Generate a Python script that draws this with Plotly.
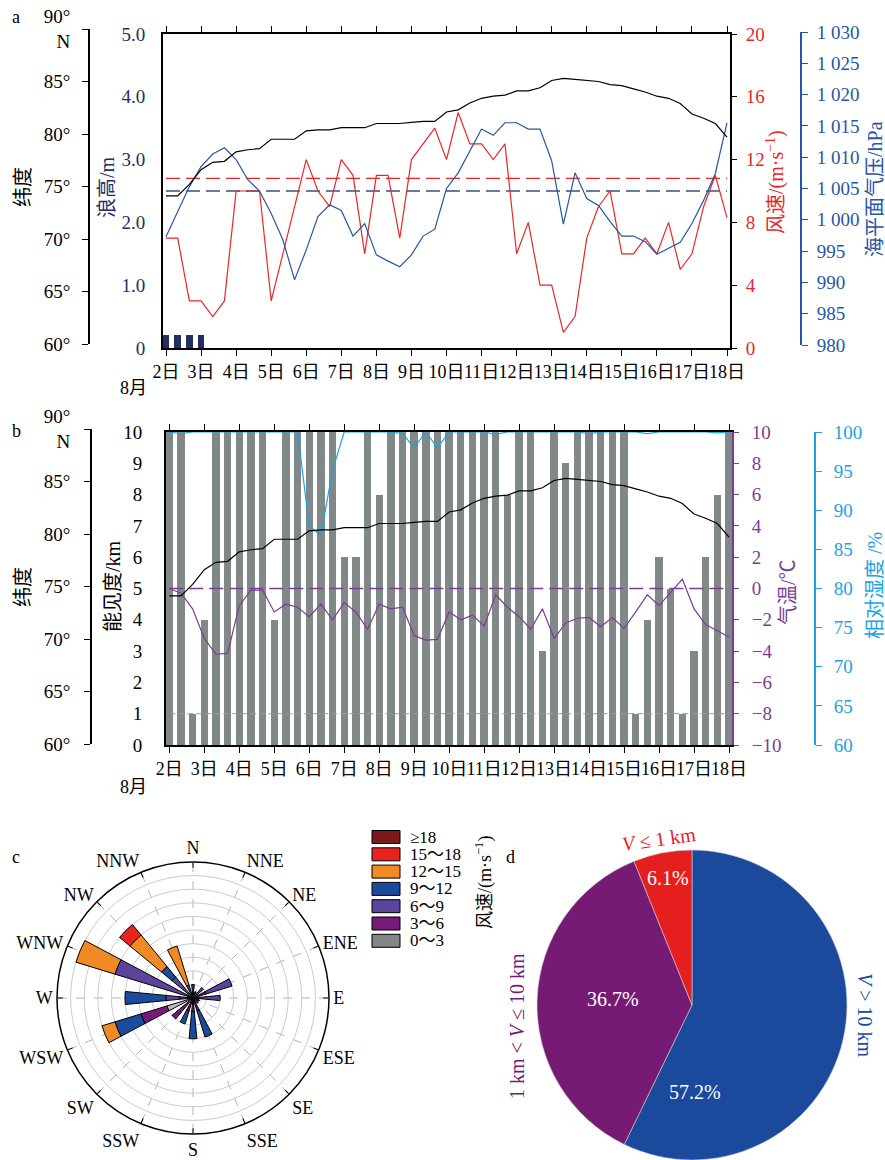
import plotly.graph_objects as go

W, H = 885, 1160
def px(x):
    return x / W
def py(y):
    return 1 - y / H

FONT = "Liberation Serif, Noto Sans CJK SC"
NAVY = "#232f63"
RED = "#e8262a"
BLUE = "#2656a6"
PURPLE = "#7b3c96"
CYAN = "#1ba3e3"
BARGRAY = "#808888"

# ---------------- data ----------------
days = [2 + i / 3 for i in range(49)]          # 8-hourly observation times (day of August)
day_ticks = list(range(2, 19))
day_labels = [f"{d}日" for d in day_ticks]

latitude = [74.1, 74.1, 75.2, 76.6, 77.3, 77.4, 78.3, 78.5, 78.6, 79.5, 79.5, 79.5,
            80.3, 80.4, 80.4, 80.6, 80.6, 80.6, 81.0, 81.0, 81.0, 81.1, 81.2, 81.2, 82.1,
            82.3, 82.95, 83.4, 83.6, 83.7, 84.1, 84.1, 84.4, 85.1, 85.3, 85.2, 85.1,
            85.0, 84.7, 84.6, 84.3, 84.0, 83.6, 83.4, 82.9, 81.9, 81.5, 81.0, 79.7]
wind_speed = [7, 7, 3, 3, 2, 3, 10, 10, 10, 3, 6, 9, 12, 10, 9, 12, 11, 6, 11, 11, 7,
              12, 13, 14, 12, 15, 13, 13, 12, 13, 6, 8, 4, 4, 1, 2, 7, 9, 10, 6, 6, 7,
              6, 8, 5, 6, 9, 11, 8.3]
pressure = [997.3, 1001.3, 1005.3, 1008.5, 1010.5, 1011.5, 1009.6, 1006.4, 1004.6,
            1001.0, 996.8, 990.4, 995.2, 1000.5, 1002.4, 1001.5, 997.4, 999.4, 994.4,
            993.4, 992.5, 994.4, 997.4, 998.5, 1005.0, 1007.5, 1011.1, 1014.5, 1013.5,
            1015.5, 1015.5, 1014.5, 1014.5, 1009.4, 999.3, 1007.5, 1003.4, 1002.3,
            999.7, 997.4, 997.4, 996.5, 994.5, 995.4, 996.4, 999.4, 1003.1, 1007.4, 1015.5]
wave_time = [2.0, 2.333, 2.667, 3.0]
wave_height = [0.2, 0.2, 0.2, 0.2]
wind_threshold = 10.8
wave_threshold = 2.5

visibility = [10, 10, 1, 4, 10, 10, 10, 10, 10, 4, 10, 10, 10, 10, 10, 6, 6, 10, 8, 10,
              10, 10, 10, 10, 10, 10, 10, 10, 10, 8, 10, 10, 3, 10, 9, 10, 10, 10, 10,
              10, 1, 4, 6, 5, 1, 3, 6, 8, 10]
air_temp = [0.0, -0.3, -1.3, -3.2, -4.2, -4.15, -1.1, -0.1, -0.1, -1.5, -1.0, -1.2,
            -1.8, -1.0, -2.0, -0.9, -1.5, -2.6, -1.0, -1.3, -1.2, -3.0, -3.3, -3.25,
            -1.5, -2.0, -1.7, -2.4, -0.4, -1.2, -1.8, -2.6, -1.3, -3.2, -2.2, -1.9,
            -1.85, -2.45, -1.85, -2.55, -1.5, -0.4, -1.1, -0.25, 0.6, -1.3, -2.3, -2.7, -3.1]
rel_hum = [100, 99.8, 100, 100, 100, 100, 100, 100, 100, 100,
           100, 100, 88.0, 86.8, 95.1, 100, 100, 100, 100, 100,
           99.8, 98.0, 100, 98.0, 100, 100, 100, 100, 99.7, 100,
           100, 100, 100, 100, 100, 100, 99.8, 100, 100, 100,
           100, 99.8, 100, 100, 100, 100, 100, 99.9, 100]
temp_ref = 0
vis_ref = 1

wave_ticks = [0, 1, 2, 3, 4, 5]
wave_labels = ["0", "1.0", "2.0", "3.0", "4.0", "5.0"]
wind_ticks = [0, 4, 8, 12, 16, 20]
pres_ticks = [980, 985, 990, 995, 1000, 1005, 1010, 1015, 1020, 1025, 1030]
pres_labels = ["980", "985", "990", "995", "1 000", "1 005", "1 010", "1 015", "1 020", "1 025", "1 030"]
lat_ticks = [60, 65, 70, 75, 80, 85, 90]
lat_labels = ["60°", "65°", "70°", "75°", "80°", "85°", "90°<br>N"]
vis_ticks = list(range(0, 11))
temp_ticks = list(range(-10, 11, 2))
rh_ticks = list(range(60, 101, 5))

# wind rose
directions = ["N", "NNE", "NE", "ENE", "E", "ESE", "SE", "SSE",
              "S", "SSW", "SW", "WSW", "W", "WNW", "NW", "NNW"]
dir_angles = [0, 22.5, 45, 67.5, 90, 112.5, 135, 157.5,
              180, 202.5, 225, 247.5, 270, 292.5, 315, 337.5]
speed_bins = ["0～3", "3～6", "6～9", "9～12", "12～15", "15～18", "≥18"]
rose_0_3 = [0, 0, 0, 0, 0, 0, 0, 0, 0, 0.3, 0.5, 2.0, 0.3, 0, 0, 0]
rose_3_6 = [0.4, 0.5, 0.4, 1.0, 0.5, 0.5, 0.5, 1.0, 1.0, 0.7, 1.5, 2.0, 0.7, 0.5, 0.5, 0]
rose_6_9 = [0, 0, 0.6, 2.0, 1.5, 0, 0, 0, 0, 0, 0, 0, 1.0, 5.5, 1.5, 1.0]
rose_9_12 = [0.6, 0, 0, 0, 0, 0, 0, 2.0, 2.0, 1.0, 0, 2.0, 3.0, 0, 1.0, 0]
rose_12_15 = [0, 0, 0, 0, 0, 0, 0, 0, 0, 0, 0, 1.0, 0, 3.0, 3.0, 3.0]
rose_15_18 = [0, 0, 0, 0, 0, 0, 0, 0, 0, 0, 0, 0, 0, 0, 1.0, 0]
rose_18 = [0] * 16
rose_series = [rose_0_3, rose_3_6, rose_6_9, rose_9_12, rose_12_15, rose_15_18, rose_18]
rose_colors = ["#bcbcbc", "#771b7b", "#5b449c", "#1b4c9c", "#f08a24", "#e8231f", "#7b1a1c"]
legend_colors = ["#858585", "#771b7b", "#5b449c", "#1b4c9c", "#f08a24", "#e8231f", "#7b1a1c"]

# visibility pie
vis_classes = ["V > 10 km", "1 km < V ≤ 10 km", "V ≤ 1 km"]
vis_share = [57.2, 36.7, 6.1]
pie_colors = ["#1b4a9c", "#761b73", "#e51e1e"]

# ---------------- figure ----------------
fig = go.Figure()

# panel a
fig.add_trace(go.Bar(x=wave_time, y=wave_height, width=0.19, marker=dict(color=NAVY, line=dict(width=0)),
                     xaxis="x", yaxis="y"))
fig.add_trace(go.Scatter(x=[days[0], days[-1]], y=[wave_threshold] * 2, mode="lines",
                         line=dict(color="#3d4c7e", width=1.3, dash="14px,6px"), xaxis="x", yaxis="y"))
fig.add_trace(go.Scatter(x=[days[0], days[-1]], y=[wind_threshold] * 2, mode="lines",
                         line=dict(color=RED, width=1.3, dash="14px,6px"), xaxis="x", yaxis="y2"))
fig.add_trace(go.Scatter(x=days, y=wind_speed, mode="lines", line=dict(color=RED, width=1.2),
                         xaxis="x", yaxis="y2"))
fig.add_trace(go.Scatter(x=days, y=pressure, mode="lines", line=dict(color=BLUE, width=1.2),
                         xaxis="x", yaxis="y3"))
fig.add_trace(go.Scatter(x=days, y=latitude, mode="lines", line=dict(color="black", width=1.2),
                         xaxis="x", yaxis="y4"))

# panel b
fig.add_trace(go.Bar(x=days, y=visibility, width=0.21, marker=dict(color=BARGRAY, line=dict(width=0)),
                     xaxis="x2", yaxis="y5"))
fig.add_trace(go.Scatter(x=[days[0], days[-1]], y=[vis_ref] * 2, mode="lines",
                         line=dict(color="#9a9a9a", width=1, dash="6px,3px"), xaxis="x2", yaxis="y5"))
fig.add_trace(go.Scatter(x=[days[0], days[-1]], y=[temp_ref] * 2, mode="lines",
                         line=dict(color=PURPLE, width=1.3, dash="14px,6px"), xaxis="x2", yaxis="y6"))
fig.add_trace(go.Scatter(x=days, y=air_temp, mode="lines", line=dict(color=PURPLE, width=1.2),
                         xaxis="x2", yaxis="y6"))
fig.add_trace(go.Scatter(x=days, y=rel_hum, mode="lines", line=dict(color=CYAN, width=1.2),
                         xaxis="x2", yaxis="y7"))
fig.add_trace(go.Scatter(x=days, y=latitude, mode="lines", line=dict(color="black", width=1.2),
                         xaxis="x2", yaxis="y8"))

# panel c: wind rose
for vals, col, name in zip(rose_series, rose_colors, speed_bins):
    r = [v if v > 0 else None for v in vals]
    fig.add_trace(go.Barpolar(r=r, theta=dir_angles, width=11, name=name,
                              marker=dict(color=col, line=dict(color="black", width=1)),
                              subplot="polar"))

# panel d: pie
fig.add_trace(go.Pie(values=vis_share, labels=vis_classes, sort=False, direction="clockwise",
                     rotation=0, textinfo="none", hoverinfo="label+percent",
                     marker=dict(colors=pie_colors, line=dict(color="#d0d0d0", width=0.6)),
                     domain=dict(x=[px(535), px(849)], y=[0, py(850)])))

tickf = dict(family=FONT, size=19, color="black")
xtickf = dict(family=FONT, size=18, color="black")

def xax(dom, rng, anchor):
    return dict(domain=dom, range=rng, anchor=anchor, tickmode="array", tickvals=day_ticks,
                ticktext=day_labels, ticks="outside", ticklen=6, tickcolor="black", tickwidth=1.2,
                showline=True, linecolor="black", linewidth=1.8, mirror="ticks", tickangle=0,
                showgrid=False, zeroline=False, tickfont=xtickf, ticklabelstandoff=0,
                fixedrange=True, automargin=False)

def yax(**kw):
    base = dict(showgrid=False, zeroline=False, showline=True, linewidth=1.8, tickmode="array",
                ticks="outside", tickwidth=1.2, fixedrange=True, automargin=False)
    base.update(kw)
    return base

fig.update_layout(
    template="none",
    width=W, height=H, margin=dict(l=0, r=0, t=0, b=0, pad=0, autoexpand=False),
    paper_bgcolor="white", plot_bgcolor="rgba(0,0,0,0)", showlegend=False,
    font=dict(family=FONT, size=19, color="black"),
    bargap=0,
    xaxis=xax([px(163), px(730)], [1.9144, 18.0856], "y"),
    yaxis=yax(domain=[py(348), py(34)], range=[0, 5], anchor="x", tickvals=wave_ticks,
              ticktext=wave_labels, ticklen=10, tickcolor="rgba(0,0,0,0)", linecolor="black",
              tickfont=dict(family=FONT, size=19, color=NAVY), ticklabelstandoff=2),
    yaxis2=yax(overlaying="y", side="right", anchor="x", range=[0, 20], tickvals=wind_ticks,
               ticklen=5, tickcolor="black", linecolor="black",
               tickfont=dict(family=FONT, size=19, color=RED), ticklabelstandoff=5),
    yaxis3=yax(domain=[py(345), py(32)], anchor="free", position=px(801), side="right",
               range=[980, 1030], tickvals=pres_ticks, ticktext=pres_labels, ticklen=6,
               tickcolor=BLUE, linecolor=BLUE, tickfont=dict(family=FONT, size=19, color=BLUE),
               ticklabelstandoff=5),
    yaxis4=yax(domain=[py(344), py(29)], anchor="free", position=px(89), side="left",
               range=[60, 90], tickvals=lat_ticks, ticktext=lat_labels, ticklen=6,
               tickcolor="black", linecolor="black", tickfont=tickf, ticklabelstandoff=8),
    xaxis2=xax([px(166), px(732)], [1.9057, 18.0858], "y5"),
    yaxis5=yax(domain=[py(745), py(432)], range=[0, 10], anchor="x2", tickvals=vis_ticks,
               ticklen=16, tickcolor="rgba(0,0,0,0)", linecolor="black", tickfont=tickf,
               ticklabelstandoff=2),
    yaxis6=yax(overlaying="y5", side="right", anchor="x2", range=[-10, 10], tickvals=temp_ticks,
               ticklen=5, tickcolor=PURPLE, linecolor=PURPLE,
               tickfont=dict(family=FONT, size=19, color=PURPLE), ticklabelstandoff=9),
    yaxis7=yax(overlaying="y5", anchor="free", position=px(815), side="right", range=[60, 100],
               tickvals=rh_ticks, ticklen=6, tickcolor=CYAN, linecolor=CYAN,
               tickfont=dict(family=FONT, size=19, color=CYAN), ticklabelstandoff=8),
    yaxis8=yax(domain=[py(744), py(429)], anchor="free", position=px(91), side="left",
               range=[60, 90], tickvals=lat_ticks, ticktext=lat_labels, ticklen=6,
               tickcolor="black", linecolor="black", tickfont=tickf, ticklabelstandoff=10),
    polar=dict(
        domain=dict(x=[px(57), px(329)], y=[py(1134), py(862)]),
        bgcolor="white", barmode="stack",
        angularaxis=dict(rotation=90, direction="clockwise", tickmode="array",
                         tickvals=dir_angles, ticktext=directions, ticks="inside", ticklen=5,
                         tickcolor="black", showline=True, linecolor="black", linewidth=1.5,
                         gridcolor="#b4b4b4", griddash="dash", gridwidth=0.8, showgrid=True,
                         tickfont=dict(family=FONT, size=18, color="black")),
        radialaxis=dict(range=[0, 10], tickmode="linear", tick0=0, dtick=1, showticklabels=False,
                        ticks="", showline=False, showgrid=True, gridcolor="#cccccc", gridwidth=1),
    ),
)

ann = []
def text(x, y, s, color="black", size=20, angle=0, xanchor="center", yanchor="middle"):
    ann.append(dict(x=px(x), y=py(y), xref="paper", yref="paper", text=s, showarrow=False,
                    font=dict(family=FONT, size=size, color=color), textangle=angle,
                    xanchor=xanchor, yanchor=yanchor))

# panel letters
text(16, 17, "a", size=18)
text(16, 431, "b", size=18)
text(16, 857, "c", size=18)
text(510, 857, "d", size=18)
# panel a titles
text(23, 187, "纬度", angle=-90)
text(107, 187, "浪高/m", color=NAVY, angle=-90)
text(775, 182, "风速/(m·s<sup>−1</sup>)", color=RED, angle=-90)
text(875, 189, "海平面气压/hPa", color=BLUE, angle=-90)
text(133, 388, "8月", size=18)
# panel b titles
text(23, 587, "纬度", angle=-90)
text(113, 586, "能见度/km", angle=-90)
text(788, 592, "气温/℃", color=PURPLE, angle=-90)
text(875, 586, "相对湿度 /%", color=CYAN, angle=-90)
text(133, 787, "8月", size=18)
# wind-rose legend
for i, (lab, col) in enumerate(zip(speed_bins[::-1], legend_colors[::-1])):
    yc = 837 + i * 17.3
    fig.add_shape(type="rect", xref="paper", yref="paper", x0=px(372), x1=px(400),
                  y0=py(yc + 6.5), y1=py(yc - 6.5), fillcolor=col, line=dict(color="black", width=1))
    text(408, yc, lab, size=17, xanchor="left")
text(484, 883, "风速/(m·s<sup>−1</sup>)", size=18, angle=-90)
# pie labels
text(695, 1092, f"{vis_share[0]}%", color="white")
text(613, 999, f"{vis_share[1]}%", color="white")
text(668, 878, f"{vis_share[2]}%", color="white")
text(659, 839, "<i>V</i> ≤ 1 km", color=pie_colors[2], angle=-8)
text(517, 1026, "1 km < <i>V</i> ≤ 10 km", color=pie_colors[1], angle=-90)
text(865, 1015, "<i>V</i> > 10 km", color=pie_colors[0], angle=90)

fig.update_layout(annotations=ann)

fig.write_html("out.html", include_plotlyjs=True, full_html=True,
               config={"displayModeBar": False},
               post_script="document.body.style.margin='0';")
